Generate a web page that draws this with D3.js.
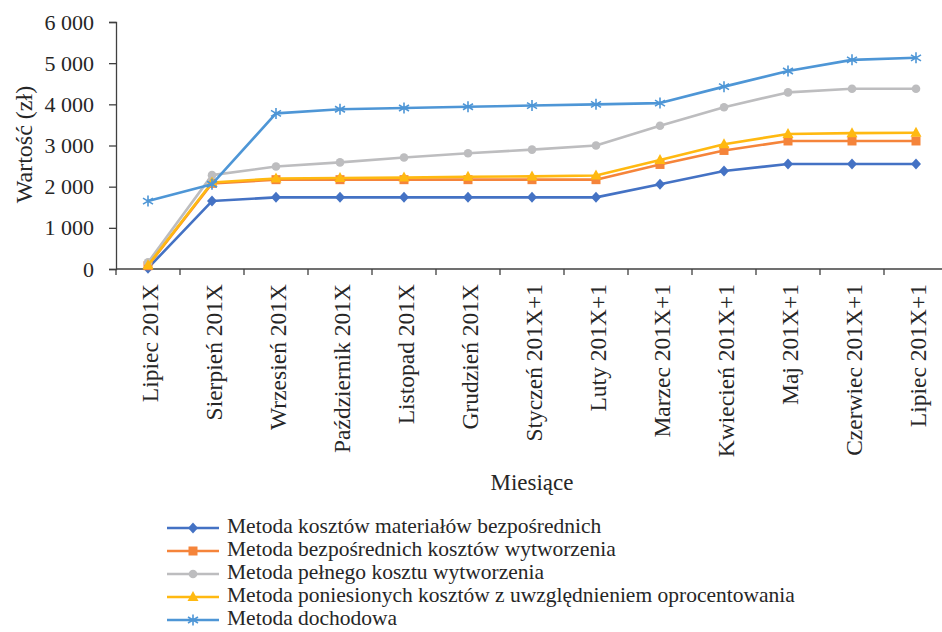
<!DOCTYPE html>
<html>
<head>
<meta charset="utf-8">
<script src="https://cdn.jsdelivr.net/npm/d3@7"></script>
<style>
  html, body { margin: 0; padding: 0; background: #fff; }
  svg { display: block; }
</style>
</head>
<body>
<svg id="chart" width="942" height="632"></svg>
<script>
// Months on the category axis
const months = [
  "Lipiec 201X", "Sierpień 201X", "Wrzesień 201X", "Październik 201X",
  "Listopad 201X", "Grudzień 201X", "Styczeń 201X+1", "Luty 201X+1",
  "Marzec 201X+1", "Kwiecień 201X+1", "Maj 201X+1", "Czerwiec 201X+1", "Lipiec 201X+1"
];

// Series values (zł)
const materialow    = [20, 1650, 1740, 1740, 1740, 1740, 1740, 1740, 2060, 2380, 2550, 2550, 2550];
const bezposrednich = [80, 2080, 2170, 2170, 2170, 2170, 2170, 2170, 2540, 2880, 3110, 3110, 3110];
const pelnego       = [160, 2280, 2490, 2590, 2710, 2810, 2900, 3000, 3480, 3930, 4290, 4380, 4380];
const poniesionych  = [90, 2100, 2200, 2210, 2220, 2240, 2250, 2270, 2650, 3030, 3280, 3300, 3310];
const dochodowa     = [1650, 2060, 3780, 3880, 3910, 3940, 3970, 4000, 4030, 4430, 4810, 5080, 5130];

const seriesNames = [
  "Metoda kosztów materiałów bezpośrednich",
  "Metoda bezpośrednich kosztów wytworzenia",
  "Metoda pełnego kosztu wytworzenia",
  "Metoda poniesionych kosztów z uwzględnieniem oprocentowania",
  "Metoda dochodowa"
];

const yTicks = [0, 1000, 2000, 3000, 4000, 5000, 6000];

const series = [
  { name: seriesNames[0], values: materialow,    color: "#4472C4", marker: "diamond" },
  { name: seriesNames[1], values: bezposrednich, color: "#F5843A", marker: "square" },
  { name: seriesNames[2], values: pelnego,       color: "#BDBDBF", marker: "circle" },
  { name: seriesNames[3], values: poniesionych,  color: "#FFB911", marker: "triangle" },
  { name: seriesNames[4], values: dochodowa,     color: "#4E96D6", marker: "star" }
];

const FONT = "Liberation Serif";
const TEXT_COLOR = "#262626";
const svg = d3.select("#chart");
const plotLeft = 116, plotTop = 22, plotBottom = 269;
const step = 64;

const x = d3.scaleBand().domain(months).range([plotLeft, plotLeft + step * months.length]).padding(0);
const y = d3.scaleLinear().domain([0, 6000]).range([plotBottom, plotTop]);
const cx = d => x(d) + x.bandwidth() / 2;

const fmt = d3.formatLocale({ decimal: ",", thousands: " ", grouping: [3], currency: ["", " zł"] }).format(",d");

const axisColor = "#404040";

// Y axis
const yAxis = svg.append("g").attr("transform", `translate(${plotLeft},0)`)
  .call(d3.axisLeft(y).tickValues(yTicks).tickSize(7).tickPadding(15).tickFormat(fmt));
yAxis.select(".domain").attr("stroke", axisColor).attr("stroke-width", 1.3);
yAxis.selectAll(".tick line").attr("stroke", axisColor).attr("stroke-width", 1.3);
yAxis.selectAll(".tick text")
  .attr("font-family", FONT).attr("font-size", 22).attr("fill", TEXT_COLOR);

// X axis: ticks sit on category boundaries
const xg = svg.append("g");
xg.append("line").attr("x1", plotLeft).attr("x2", x.range()[1])
  .attr("y1", plotBottom).attr("y2", plotBottom).attr("stroke", axisColor).attr("stroke-width", 1.3);
const bounds = months.map(m => x(m)).concat([x.range()[1]]);
xg.selectAll("line.tk").data(bounds).join("line").attr("class", "tk")
  .attr("x1", d => d).attr("x2", d => d).attr("y1", plotBottom).attr("y2", plotBottom + 6)
  .attr("stroke", axisColor).attr("stroke-width", 1.3);
xg.selectAll("text.lbl").data(months).join("text").attr("class", "lbl")
  .attr("transform", d => `translate(${cx(d) + 10},${plotBottom + 15}) rotate(-90)`)
  .attr("text-anchor", "end")
  .attr("font-family", FONT).attr("font-size", 23.5).attr("fill", TEXT_COLOR)
  .text(d => d);

// Axis titles
svg.append("text")
  .attr("transform", `translate(32,${(plotTop + plotBottom) / 2 - 1}) rotate(-90)`)
  .attr("text-anchor", "middle")
  .attr("font-family", FONT).attr("font-size", 24).attr("fill", TEXT_COLOR)
  .text("Wartość (zł)");
svg.append("text")
  .attr("x", 532).attr("y", 490).attr("text-anchor", "middle")
  .attr("font-family", FONT).attr("font-size", 23).attr("fill", TEXT_COLOR)
  .text("Miesiące");

// Marker shapes
function drawMarker(g, type, color, px, py) {
  if (type === "diamond") {
    g.append("path").attr("d", `M${px},${py - 5.5}L${px + 5},${py}L${px},${py + 5.5}L${px - 5},${py}Z`).attr("fill", color);
  } else if (type === "square") {
    g.append("rect").attr("x", px - 4.5).attr("y", py - 4.5).attr("width", 9).attr("height", 9).attr("fill", color);
  } else if (type === "circle") {
    g.append("circle").attr("cx", px).attr("cy", py).attr("r", 4.3).attr("fill", color);
  } else if (type === "triangle") {
    g.append("path").attr("d", `M${px},${py - 6}L${px + 5.5},${py + 4}L${px - 5.5},${py + 4}Z`).attr("fill", color);
  } else if (type === "star") {
    const r = 5;
    g.append("path")
      .attr("d", `M${px},${py - r - 0.5}V${py + r + 0.5}M${px - r},${py - r * 0.6}L${px + r},${py + r * 0.6}M${px - r},${py + r * 0.6}L${px + r},${py - r * 0.6}`)
      .attr("stroke", color).attr("stroke-width", 1.6).attr("fill", "none");
  }
}

// Lines and markers
const line = d3.line().x((d, i) => cx(months[i])).y(d => y(d));
series.forEach(s => {
  const g = svg.append("g");
  g.append("path").datum(s.values).attr("d", line)
    .attr("fill", "none").attr("stroke", s.color).attr("stroke-width", 2.6)
    .attr("stroke-linejoin", "round");
  s.values.forEach((v, i) => drawMarker(g, s.marker, s.color, cx(months[i]), y(v)));
});

// Legend
const legend = svg.append("g");
series.forEach((s, i) => {
  const ly = 528 + i * 23;
  const g = legend.append("g");
  g.append("line").attr("x1", 167).attr("x2", 219).attr("y1", ly).attr("y2", ly)
    .attr("stroke", s.color).attr("stroke-width", 2.6);
  drawMarker(g, s.marker, s.color, 193, ly);
  g.append("text").attr("x", 227).attr("y", ly + 5)
    .attr("font-family", FONT).attr("font-size", 21.5).attr("fill", TEXT_COLOR)
    .text(s.name);
});
</script>
</body>
</html>
